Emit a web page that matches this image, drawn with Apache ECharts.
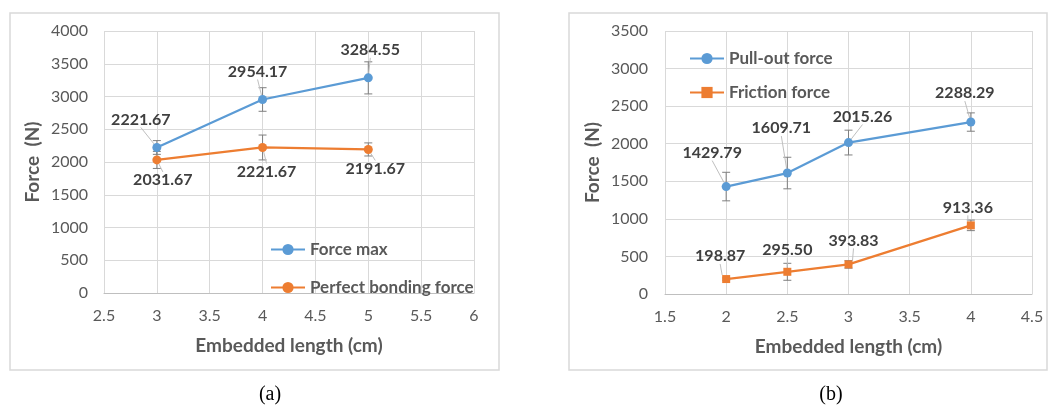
<!DOCTYPE html>
<html lang="en">
<head>
<meta charset="UTF-8">
<title>Force vs embedded length</title>
<style>
  html, body { margin: 0; padding: 0; background: #fff; }
  #main { width: 1048px; height: 409px; }
</style>
<script src="https://cdn.jsdelivr.net/npm/echarts@6/dist/echarts.min.js"></script>
</head>
<body>
<div id="main"></div>
<script>
// ---- data (a)
var lenA = [3, 4, 5];
var forceMax = [2221.67, 2954.17, 3284.55];
var forceMaxErr = [105, 180, 245];
var bonding = [2031.67, 2221.67, 2191.67];
var bondingErr = [130, 190, 100];
// ---- data (b)
var lenB = [2, 2.5, 3, 4];
var pullOut = [1429.79, 1609.71, 2015.26, 2288.29];
var pullOutErr = [190, 210, 165, 122];
var friction = [198.87, 295.50, 393.83, 913.36];
var frictionErr = [15, 113, 50, 70];

// label nudges (px) relative to each marker, like the excel data labels
var nudgeMax = [[-16, -28], [-5, -28], [2, -28]];
var nudgeBond = [[6, 20], [4, 24], [7, 19]];
var nudgePull = [[-14, -34], [-6, -45], [14, -26], [-6, -29]];
var nudgeFric = [[-6, -23], [0, -22], [5, -24], [-3, -18]];

var BLUE = '#5B9BD5', ORANGE = '#ED7D31';
var FONT = 'Lato, "Open Sans", sans-serif';

var chart = echarts.init(document.getElementById('main'));

function pairs(xs, ys) {
  return xs.map(function (x, i) { return [x, ys[i]]; });
}

function lineSeries(name, idx, xs, ys, color, symbol, size, nudge) {
  return {
    name: name,
    type: 'line',
    xAxisIndex: idx,
    yAxisIndex: idx,
    data: pairs(xs, ys),
    symbol: symbol,
    symbolSize: size,
    lineStyle: { color: color, width: 2.25 },
    itemStyle: { color: color },
    z: 3,
    label: {
      show: true,
      position: 'inside',
      formatter: function (p) { return p.value[1].toFixed(2); },
      fontFamily: FONT,
      fontWeight: 'bold',
      fontSize: 16,
      color: '#404040'
    },
    labelLine: { show: true, lineStyle: { color: '#BFBFBF', width: 1 } },
    labelLayout: function (p) {
      return { dx: nudge[p.dataIndex][0], dy: nudge[p.dataIndex][1] };
    },
    animation: false
  };
}

function errSeries(idx, xs, ys, errs) {
  return {
    type: 'custom',
    xAxisIndex: idx,
    yAxisIndex: idx,
    z: 1,
    silent: true,
    data: xs.map(function (x, i) { return [x, ys[i] - errs[i], ys[i] + errs[i]]; }),
    encode: { x: 0, y: [1, 2] },
    renderItem: function (params, api) {
      var lo = api.coord([api.value(0), api.value(1)]);
      var hi = api.coord([api.value(0), api.value(2)]);
      var w = 4;
      var st = { stroke: '#7F7F7F', lineWidth: 1 };
      return {
        type: 'group',
        children: [
          { type: 'line', shape: { x1: lo[0], y1: lo[1], x2: hi[0], y2: hi[1] }, style: st },
          { type: 'line', shape: { x1: hi[0] - w, y1: hi[1], x2: hi[0] + w, y2: hi[1] }, style: st },
          { type: 'line', shape: { x1: lo[0] - w, y1: lo[1], x2: lo[0] + w, y2: lo[1] }, style: st }
        ]
      };
    },
    animation: false
  };
}

function xAxis(idx, min, max) {
  return {
    type: 'value', gridIndex: idx, min: min, max: max, interval: 0.5,
    name: 'Embedded length (cm)', nameLocation: 'middle', nameGap: 43,
    nameTextStyle: { fontFamily: FONT, fontWeight: 'bold', fontSize: 19, color: '#595959' },
    axisLine: { show: true, lineStyle: { color: '#BFBFBF' } },
    axisTick: { show: false },
    axisLabel: { margin: 15, fontFamily: FONT, fontSize: 16, color: '#595959',
      formatter: function (v) { return String(v); } },
    splitLine: { show: true, lineStyle: { color: '#D9D9D9' } }
  };
}

function yAxis(idx, max, gap, margin) {
  return {
    type: 'value', gridIndex: idx, min: 0, max: max, interval: 500,
    name: 'Force  (N)', nameLocation: 'middle', nameGap: gap,
    nameTextStyle: { fontFamily: FONT, fontWeight: 'bold', fontSize: 19, color: '#595959' },
    axisLine: { show: false },
    axisTick: { show: false },
    axisLabel: { margin: margin, fontFamily: FONT, fontSize: 16, color: '#595959',
      formatter: function (v) { return String(v); } },
    splitLine: { show: true, lineStyle: { color: '#D9D9D9' } }
  };
}

var legendText = { fontFamily: FONT, fontWeight: 'bold', fontSize: 17, color: '#595959' };

var option = {
  backgroundColor: '#fff',
  animation: false,
  grid: [
    { left: 104, top: 31, width: 370, height: 262 },
    { left: 665, top: 31, width: 367, height: 263 }
  ],
  xAxis: [xAxis(0, 2.5, 6), xAxis(1, 1.5, 4.5)],
  yAxis: [yAxis(0, 4000, 62, 16), yAxis(1, 3500, 63, 17)],
  legend: [
    {
      data: ['Force max', 'Perfect bonding force'],
      orient: 'vertical', left: 265, top: 236,
      itemWidth: 34, itemHeight: 14, itemGap: 21,
      textStyle: legendText
    },
    {
      data: ['Pull-out force', 'Friction force'],
      orient: 'vertical', left: 684, top: 45,
      itemWidth: 34, itemHeight: 14, itemGap: 17,
      textStyle: legendText
    }
  ],
  graphic: [
    { type: 'rect', shape: { x: 10, y: 13, width: 489, height: 357 },
      style: { fill: 'none', stroke: '#D9D9D9', lineWidth: 1.5 }, silent: true },
    { type: 'rect', shape: { x: 569, y: 13, width: 478, height: 357 },
      style: { fill: 'none', stroke: '#D9D9D9', lineWidth: 1.5 }, silent: true },
    { type: 'text', x: 270, y: 395,
      style: { text: '(a)', font: '20px "Liberation Serif", serif', fill: '#000', textAlign: 'center', textVerticalAlign: 'middle' } },
    { type: 'text', x: 831, y: 395,
      style: { text: '(b)', font: '20px "Liberation Serif", serif', fill: '#000', textAlign: 'center', textVerticalAlign: 'middle' } }
  ],
  series: [
    errSeries(0, lenA, forceMax, forceMaxErr),
    errSeries(0, lenA, bonding, bondingErr),
    errSeries(1, lenB, pullOut, pullOutErr),
    errSeries(1, lenB, friction, frictionErr),
    lineSeries('Force max', 0, lenA, forceMax, BLUE, 'circle', 9, nudgeMax),
    lineSeries('Perfect bonding force', 0, lenA, bonding, ORANGE, 'circle', 9, nudgeBond),
    lineSeries('Pull-out force', 1, lenB, pullOut, BLUE, 'circle', 9, nudgePull),
    lineSeries('Friction force', 1, lenB, friction, ORANGE, 'rect', 8, nudgeFric)
  ]
};

chart.setOption(option);
</script>
</body>
</html>
